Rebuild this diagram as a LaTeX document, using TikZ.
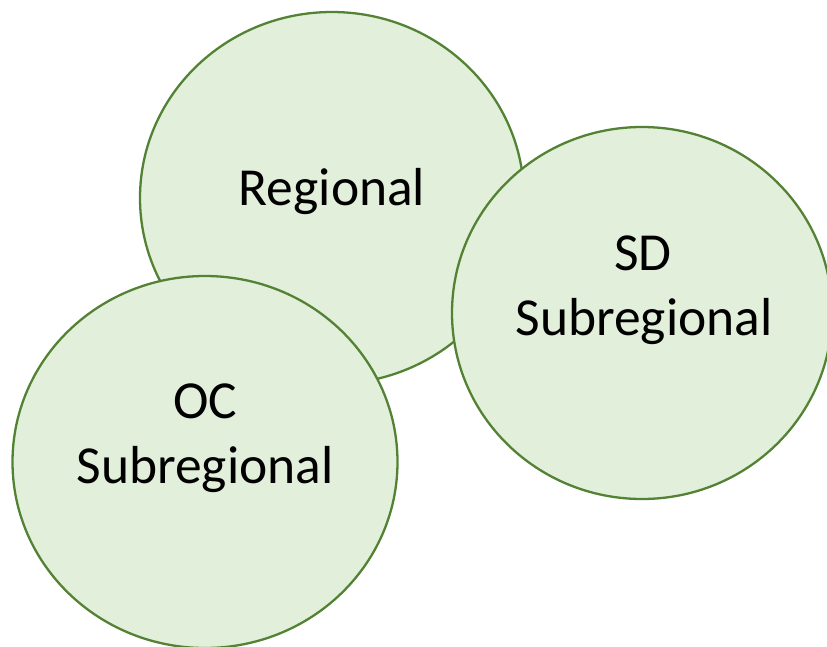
\documentclass[tikz,border=0pt]{standalone}
\usepackage{fontspec}
\setmainfont{Carlito}
\usetikzlibrary{shapes.geometric}
\definecolor{ringfill}{HTML}{E2EFDA}
\definecolor{ringline}{HTML}{548235}
\tikzset{
  ring/.style={ellipse, draw=ringline, fill=ringfill, line width=2.3pt, inner sep=0pt},
  lbl/.style={anchor=base, font=\fontsize{53.5}{65}\selectfont, inner sep=0pt}
}
\begin{document}
\begin{tikzpicture}[x=1pt,y=-1pt]
\useasboundingbox (0,0) rectangle (827,646);
\begin{scope}
\clip (0,0) rectangle (827,646);
\node[ring, minimum width=384pt, minimum height=372pt] (reg) at (332,198) {};
\node[ring, minimum width=385pt, minimum height=372pt] (oc) at (205,462) {};
\node[ring, minimum width=380pt, minimum height=372pt] (sd) at (642,313) {};
\end{scope}
\node[lbl] (regt) at (332,205) {Regional};
\node[lbl] (sdt1) at (643,270) {SD};
\node[lbl] (sdt2) at (644,335) {Subregional};
\node[lbl] (oct1) at (205,418) {OC};
\node[lbl] (oct2) at (205,483) {Subregional};
\end{tikzpicture}
\end{document}
